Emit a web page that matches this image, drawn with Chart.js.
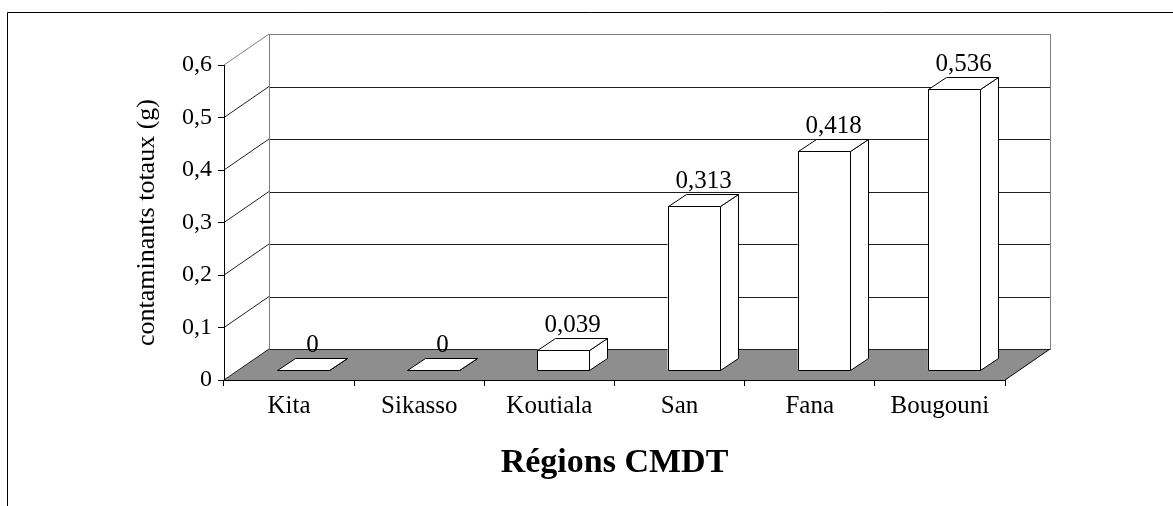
<!DOCTYPE html>
<html>
<head>
<meta charset="utf-8">
<script src="https://cdn.jsdelivr.net/npm/chart.js@4/dist/chart.umd.min.js"></script>
<style>
  html, body { margin: 0; padding: 0; background: #fff; }
  #wrap { width: 1173px; height: 506px; position: relative; }
</style>
</head>
<body>
<div id="wrap"><canvas id="c" width="1173" height="506"></canvas></div>
<script>
// Contaminants totaux par région CMDT (g)
const categories = ['Kita', 'Sikasso', 'Koutiala', 'San', 'Fana', 'Bougouni'];
const contaminants = [0, 0, 0.039, 0.313, 0.418, 0.536];
const yMin = 0, yMax = 0.6, yStep = 0.1;

// 3D look: depth of the floor/walls, position of the bar row inside that depth,
// and depth of each bar box
const WALL_DX = 45, WALL_DY = -31;
const ROW_DX = 14, ROW_DY = -10;
const BOX_DX = 18, BOX_DY = -12;

const SERIF = "'Liberation Serif', 'Times New Roman', serif";
const fmt = v => String(Math.round(v * 1000) / 1000).replace('.', ',');
const crisp = v => Math.round(v) + 0.5;

function poly(ctx, pts, fill, stroke) {
  ctx.beginPath();
  ctx.moveTo(pts[0][0], pts[0][1]);
  for (let i = 1; i < pts.length; i++) ctx.lineTo(pts[i][0], pts[i][1]);
  ctx.closePath();
  if (fill) { ctx.fillStyle = fill; ctx.fill(); }
  if (stroke) { ctx.strokeStyle = stroke; ctx.stroke(); }
}

const scene3d = {
  id: 'scene3d',
  beforeDraw(chart) {
    const { ctx, chartArea: a, scales: { y } } = chart;
    const L = a.left, R = a.right, T = a.top, B = a.bottom;
    ctx.save();
    ctx.lineWidth = 1;

    // outer frame
    ctx.strokeStyle = '#000';
    ctx.beginPath();
    ctx.moveTo(7.5, 506); ctx.lineTo(7.5, 12.5); ctx.lineTo(1173, 12.5);
    ctx.stroke();

    // floor
    poly(ctx, [[L, B], [R, B], [R + WALL_DX, B + WALL_DY], [L + WALL_DX, B + WALL_DY]], '#8e8e8e', null);

    // gridlines on side wall and back wall
    y.ticks.forEach(t => {
      const py = y.getPixelForValue(t.value);
      const isTop = t.value >= yMax - 1e-9;
      ctx.strokeStyle = isTop ? '#808080' : '#202020';
      ctx.beginPath();
      ctx.moveTo(L, py);
      ctx.lineTo(L + WALL_DX, py + WALL_DY);
      ctx.stroke();
      ctx.beginPath();
      ctx.moveTo(crisp(L + WALL_DX), crisp(py + WALL_DY));
      ctx.lineTo(crisp(R + WALL_DX), crisp(py + WALL_DY));
      ctx.stroke();
    });

    // wall edges
    ctx.strokeStyle = '#808080';
    ctx.beginPath();
    ctx.moveTo(crisp(L + WALL_DX), T + WALL_DY); ctx.lineTo(crisp(L + WALL_DX), B + WALL_DY);
    ctx.moveTo(crisp(R + WALL_DX), T + WALL_DY); ctx.lineTo(crisp(R + WALL_DX), B + WALL_DY);
    ctx.stroke();

    // right edge of the floor
    ctx.strokeStyle = '#000';
    ctx.beginPath();
    ctx.moveTo(R, B); ctx.lineTo(R + WALL_DX, B + WALL_DY);
    ctx.stroke();
    ctx.restore();
  },
  beforeDatasetsDraw(chart) {
    chart.ctx.save();
    chart.ctx.translate(ROW_DX, ROW_DY);
  },
  afterDatasetsDraw(chart) {
    const ctx = chart.ctx;
    ctx.restore();
    const meta = chart.getDatasetMeta(0);
    const values = chart.data.datasets[0].data;
    ctx.save();
    ctx.lineWidth = 1;
    meta.data.forEach((bar, i) => {
      const p = bar.getProps(['x', 'y', 'base', 'width'], true);
      const l = crisp(p.x - p.width / 2 + ROW_DX);
      const r = crisp(p.x + p.width / 2 + ROW_DX);
      const t = crisp(p.y + ROW_DY);
      const b = crisp(p.base + ROW_DY);
      // front, side and top faces
      if (b - t > 0.5) poly(ctx, [[l, t], [r, t], [r, b], [l, b]], '#fff', '#000');
      poly(ctx, [[r, t], [r + BOX_DX, t + BOX_DY], [r + BOX_DX, b + BOX_DY], [r, b]], '#fff', '#000');
      poly(ctx, [[l, t], [l + BOX_DX, t + BOX_DY], [r + BOX_DX, t + BOX_DY], [r, t]], '#fff', '#000');

      // value label
      ctx.fillStyle = '#000';
      ctx.font = '25px ' + SERIF;
      ctx.textAlign = 'center';
      ctx.textBaseline = 'alphabetic';
      ctx.fillText(fmt(values[i]), (l + r) / 2 + BOX_DX / 2, t + BOX_DY - 7);
    });
    ctx.restore();
  }
};

new Chart(document.getElementById('c'), {
  type: 'bar',
  data: {
    labels: categories,
    datasets: [{
      data: contaminants,
      backgroundColor: '#fff',
      borderWidth: 0,
      categoryPercentage: 1,
      barPercentage: 0.4,
      clip: false
    }]
  },
  options: {
    responsive: false,
    animation: false,
    events: [],
    layout: { padding: { left: 0, top: 65, right: 168, bottom: 0 } },
    plugins: { legend: { display: false }, tooltip: { enabled: false } },
    scales: {
      x: {
        grid: { drawOnChartArea: false, color: '#000', tickLength: 6, offset: true },
        border: { color: '#000', width: 1 },
        ticks: { color: '#000', font: { family: SERIF, size: 25 }, padding: 5, maxRotation: 0, autoSkip: false },
        title: {
          display: true, text: 'Régions CMDT', color: '#000',
          font: { family: SERIF, size: 34, weight: 'bold' },
          padding: { top: 0, bottom: 22 }
        },
        afterFit(scale) { scale.height = 126; }
      },
      y: {
        min: yMin, max: yMax,
        grid: { drawOnChartArea: false, color: '#000', tickLength: 6 },
        border: { color: '#000', width: 1 },
        ticks: {
          stepSize: yStep, color: '#000', padding: 6,
          font: { family: SERIF, size: 24 },
          callback: v => fmt(v)
        },
        title: {
          display: true, text: 'contaminants totaux (g)', color: '#000',
          font: { family: SERIF, size: 26 },
          padding: { top: 132, bottom: 0 }
        },
        afterFit(scale) { scale.width = 224; }
      }
    }
  },
  plugins: [scene3d]
});
</script>
</body>
</html>
